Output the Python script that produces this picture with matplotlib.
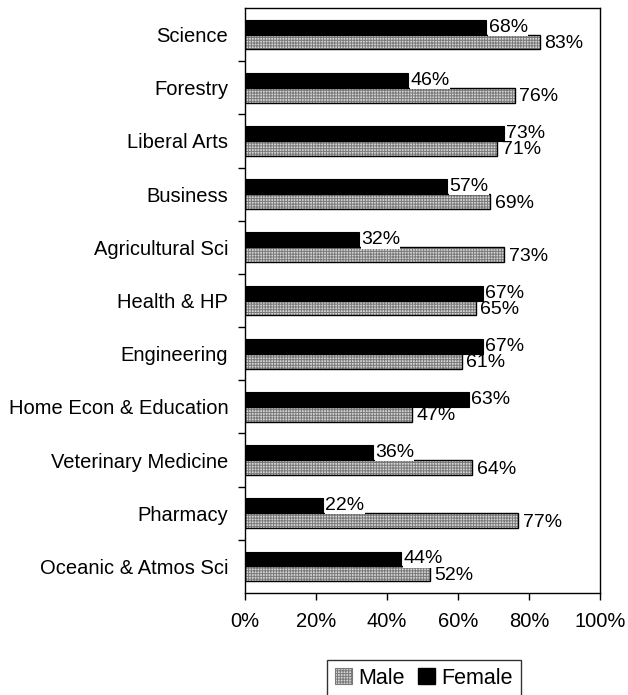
import numpy as np
import matplotlib
matplotlib.use("Agg")
import matplotlib.pyplot as plt
from matplotlib.patches import Patch

plt.rcParams['font.family'] = ['Liberation Sans', 'DejaVu Sans']
plt.rcParams['hatch.linewidth'] = 0.7

# data (percent)
categories = ['Science', 'Forestry', 'Liberal Arts', 'Business', 'Agricultural Sci',
              'Health & HP', 'Engineering', 'Home Econ & Education',
              'Veterinary Medicine', 'Pharmacy', 'Oceanic & Atmos Sci']
female = [68, 46, 73, 57, 32, 67, 67, 63, 36, 22, 44]
male = [83, 76, 71, 69, 73, 65, 61, 47, 64, 77, 52]
xticks = [0, 20, 40, 60, 80, 100]

fig = plt.figure(figsize=(6.28, 6.95), dpi=100)
ax = fig.add_axes([245/628, 1-593/695, (600-245)/628, (593-8)/695])

y = np.arange(len(categories))
h = 0.28
off = 0.14
hatch_col = '#7a7a7a'

# female bars (solid black)
ax.barh(y - off, female, height=h, color='black', edgecolor='black', linewidth=0.8)
# male bars: hatched grey with black outline
ax.barh(y + off, male, height=h, color='#d4d4d4', edgecolor=hatch_col, hatch='++++++', linewidth=0)
ax.barh(y + off, male, height=h, color='none', edgecolor='black', linewidth=1.0)

for yi, v in zip(y, female):
    ax.text(v + 0.6, yi - off, f'{v}%', va='center', ha='left', fontsize=14,
            bbox=dict(facecolor='white', edgecolor='none', pad=0.2))
for yi, v in zip(y, male):
    ax.text(v + 1.3, yi + off + 0.03, f'{v}%', va='center', ha='left', fontsize=14)

ax.set_xlim(0, 100)
ax.set_ylim(len(categories) - 0.5, -0.5)
ax.set_xticks(xticks)
ax.set_xticklabels([f'{t}%' for t in xticks], fontsize=14.5)
ax.tick_params(axis='x', direction='out', length=5, width=1, pad=9)

ax.set_yticks(y)
ax.set_yticklabels(categories, fontsize=14.5)
ax.tick_params(axis='y', which='major', length=0, pad=12)
ax.set_yticks(np.arange(len(categories) - 1) + 0.5, minor=True)
ax.tick_params(axis='y', which='minor', direction='out', length=5, width=1)

for s in ax.spines.values():
    s.set_linewidth(1)
    s.set_color('black')

handles = [Patch(facecolor='#d4d4d4', edgecolor=hatch_col, hatch='++++++', linewidth=0.8),
           Patch(facecolor='black', edgecolor='black')]
leg = fig.legend(handles, ['Male', 'Female'], loc='upper center',
                 bbox_to_anchor=(424/628, 1-660/695), ncol=2, fontsize=15.5,
                 frameon=True, fancybox=False, edgecolor='black',
                 handlelength=0.8, handleheight=0.8, handletextpad=0.3,
                 columnspacing=0.6, borderpad=0.35, borderaxespad=0)
leg.get_frame().set_linewidth(1)

fig.savefig('out.png', dpi=100)
